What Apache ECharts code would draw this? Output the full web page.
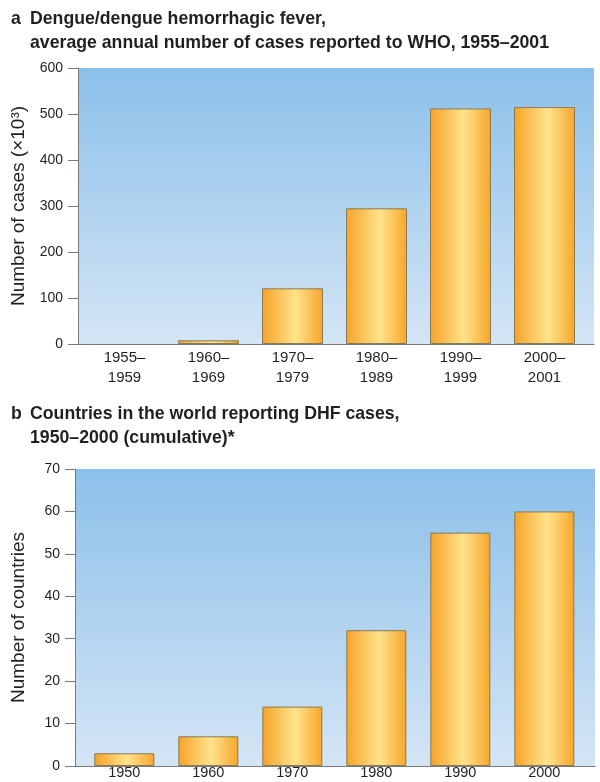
<!DOCTYPE html>
<html>
<head>
<meta charset="utf-8">
<script src="https://cdn.jsdelivr.net/npm/echarts@6/dist/echarts.min.js"></script>
<style>
html,body{margin:0;padding:0;background:#fff;}
#c{width:600px;height:782px;}
</style>
</head>
<body>
<div id="c"></div>
<script>
// Panel a data
const catsA = ['1955–\n1959', '1960–\n1969', '1970–\n1979', '1980–\n1989', '1990–\n1999', '2000–\n2001'];
const valsA = [0, 8, 121, 295, 512, 515];
const yMaxA = 600, yStepA = 100;
// Panel b data
const catsB = ['1950', '1960', '1970', '1980', '1990', '2000'];
const valsB = [3, 7, 14, 32, 55, 60];
const yMaxB = 70, yStepB = 10;

const titleA1 = 'a';
const titleA2 = 'Dengue/dengue hemorrhagic fever,\naverage annual number of cases reported to WHO, 1955–2001';
const titleB1 = 'b';
const titleB2 = 'Countries in the world reporting DHF cases,\n1950–2000 (cumulative)*';
const yNameA = 'Number of cases (×10³)';
const yNameB = 'Number of countries';

const FONT = '"Liberation Sans", Arial, Helvetica, sans-serif';
const AXIS = '#7a7a7a';
const TXT = '#231f20';

const chart = echarts.init(document.getElementById('c'), null, {renderer: 'canvas'});
const bg = new echarts.graphic.LinearGradient(0, 0, 0, 1, [
  {offset: 0, color: '#8cc0ea'},
  {offset: 1, color: '#d4e5f5'}
]);
const barFill = new echarts.graphic.LinearGradient(0, 0, 1, 0, [
  {offset: 0, color: '#f5a327'},
  {offset: 0.55, color: '#ffe38c'},
  {offset: 1, color: '#f6a62a'}
]);

function bgX(gi) {
  return {gridIndex: gi, type: 'value', min: 0, max: 1, position: 'bottom',
    axisLine: {show: true, onZero: false, lineStyle: {color: AXIS, width: 1}},
    axisTick: {show: false}, axisLabel: {show: false}, splitLine: {show: false}};
}
function bgY(gi, max, step, name, gap) {
  return {gridIndex: gi, type: 'value', min: 0, max: max, interval: step,
    axisLine: {show: true, lineStyle: {color: AXIS, width: 1}},
    axisTick: {show: true, length: 10, lineStyle: {color: AXIS}},
    axisLabel: {fontFamily: FONT, fontSize: 14, color: TXT, margin: 15},
    splitLine: {show: false},
    name: name, nameLocation: 'middle', nameRotate: 90, nameGap: gap,
    nameTextStyle: {fontFamily: FONT, fontSize: 19, color: TXT}};
}
function catX(gi, cats, margin, lh, fs) {
  return {gridIndex: gi, type: 'category', data: cats,
    axisLine: {show: false}, axisTick: {show: false},
    axisLabel: {fontFamily: FONT, fontSize: fs, color: TXT, margin: margin, lineHeight: lh, interval: 0}};
}
function hidY(gi, max) {
  return {gridIndex: gi, type: 'value', min: 0, max: max, show: false};
}
function barData(vals) {
  return vals.map(v => v === 0 ? {value: v, itemStyle: {borderWidth: 0}} : v);
}
const tStyle = {fontFamily: FONT, fontSize: 17.7, fontWeight: 'bold', color: TXT, lineHeight: 24};

const option = {
  animation: false,
  backgroundColor: '#fff',
  title: [
    {text: titleA1, left: 6, top: 2, textStyle: tStyle},
    {text: titleA2, left: 25, top: 2, textStyle: tStyle},
    {text: titleB1, left: 6, top: 397, textStyle: tStyle},
    {text: titleB2, left: 25, top: 397, textStyle: tStyle}
  ],
  grid: [
    {left: 78, top: 68, width: 516, height: 276, show: true, backgroundColor: bg, borderWidth: 0, outerBoundsMode: 'none', containLabel: false},
    {left: 82.5, top: 68, width: 504, height: 276, outerBoundsMode: 'none', containLabel: false},
    {left: 75, top: 469, width: 520, height: 297, show: true, backgroundColor: bg, borderWidth: 0, outerBoundsMode: 'none', containLabel: false},
    {left: 82.3, top: 469, width: 504, height: 297, outerBoundsMode: 'none', containLabel: false}
  ],
  xAxis: [
    bgX(0),
    catX(1, catsA, 4, 20, 15),
    bgX(2),
    catX(3, catsB, 0, 14, 14.5)
  ],
  yAxis: [
    bgY(0, yMaxA, yStepA, yNameA, 50),
    hidY(1, yMaxA),
    bgY(2, yMaxB, yStepB, yNameB, 47),
    hidY(3, yMaxB)
  ],
  series: [
    {type: 'bar', xAxisIndex: 1, yAxisIndex: 1, data: barData(valsA), barWidth: 61,
      itemStyle: {color: barFill, borderColor: '#8a7a55', borderWidth: 1}},
    {type: 'bar', xAxisIndex: 3, yAxisIndex: 3, data: barData(valsB), barWidth: 60,
      itemStyle: {color: barFill, borderColor: '#8a7a55', borderWidth: 1}}
  ]
};
chart.setOption(option);
</script>
</body>
</html>
